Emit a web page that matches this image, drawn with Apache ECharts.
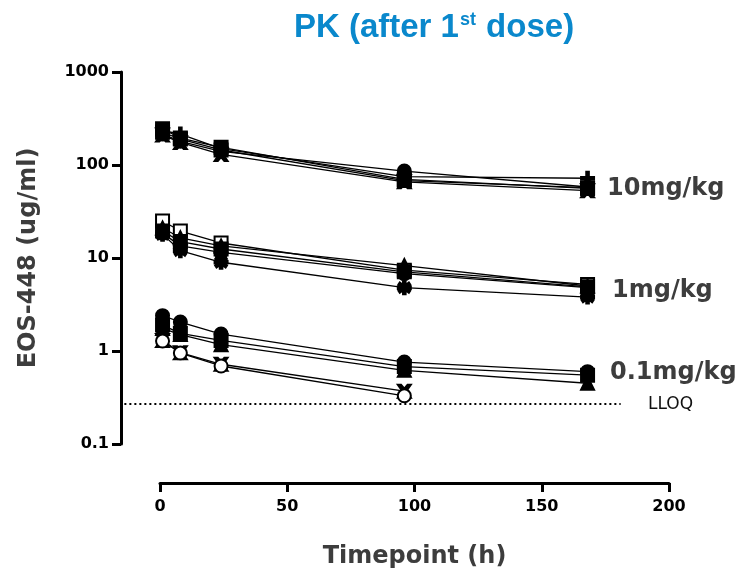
<!DOCTYPE html>
<html>
<head>
<meta charset="utf-8">
<script src="https://cdn.jsdelivr.net/npm/echarts@6/dist/echarts.min.js"></script>
<style>
  html, body { margin: 0; padding: 0; background: #fff; }
  #pkChart { width: 737px; height: 577px; }
</style>
</head>
<body>
<div id="pkChart"></div>
<script>
// timepoints (h)
const times = [1, 8, 24, 96, 168];
const xTicks = [0, 50, 100, 150, 200];
const yTicks = [0.1, 1, 10, 100, 1000];

// EOS-448 concentration (ug/ml) per animal
const dose10 = [
  [245, 195, 155, 70, 56],
  [235, 215, 150, 75, 72],
  [225, 190, 145, 68, 57],
  [215, 180, 140, 86, 58],
  [210, 175, 130, 66, 53]
];
const dose1 = [
  [25, 19.5, 14.5, 7.4, 5.2],
  [21, 16.5, 13.5, 8.3, 5.0],
  [19.5, 15, 12.5, 7.1, 4.9],
  [18.5, 13.5, 11.5, 6.8, 4.8],
  [18, 12, 9, 4.8, 3.8]
];
const dose01 = [
  [2.4, 2.05, 1.52, 0.76, 0.6],
  [1.9, 1.55, 1.3, 0.68, 0.55],
  [1.75, 1.5, 1.17, 0.62, 0.45],
  [1.3, 0.96, 0.72, 0.37, null],
  [1.28, 0.95, 0.69, 0.33, null]
];
const lloq = 0.27;
const lloqX = [-14, 181];

const xPath = 'path://M0,0 L2.5,0 L5,3 L7.5,0 L10,0 L6.5,5 L10,10 L7.5,10 L5,7 L2.5,10 L0,10 L3.5,5 Z';
const plusPath = 'path://M4,0 H6 V4 H10 V6 H6 V10 H4 V6 H0 V4 H4 Z';
const starPath = 'path://M4,0 H6 L6,3 L8.5,1 L9.5,2.5 L7,4 H10 V6 H7 L9.5,7.5 L8.5,9 L6,7 V10 H4 V7 L1.5,9 L0.5,7.5 L3,6 H0 V4 H3 L0.5,2.5 L1.5,1 L4,3 Z';

const sym10 = ['rect', plusPath, 'rect', 'circle', xPath];
const sym1 = ['emptyRect', 'triangle', 'rect', 'circle', starPath];
const sym01 = ['circle', 'rect', 'triangle', xPath, 'emptyCircle'];

function makeSeries(group, syms, name) {
  return group.map((vals, i) => ({
    name: name + '-' + (i + 1),
    type: 'line',
    data: times.map((t, j) => [t, vals[j]]),
    symbol: syms[i],
    symbolSize: 13,
    color: '#000',
    itemStyle: { color: '#000', borderColor: '#000', borderWidth: 2 },
    lineStyle: { color: '#000', width: 1.3 },
    connectNulls: false,
    silent: true
  }));
}

let series = [].concat(
  makeSeries(dose10, sym10, '10mg/kg'),
  makeSeries(dose1, sym1, '1mg/kg'),
  makeSeries(dose01, sym01, '0.1mg/kg')
);
// LLOQ dotted line on a hidden twin grid that reaches back to the offset y axis
series.push({
  name: 'LLOQ',
  type: 'line',
  xAxisIndex: 1,
  yAxisIndex: 1,
  data: lloqX.map(x => [x, lloq]),
  symbol: 'none',
  silent: true,
  lineStyle: { color: '#000', width: 2, type: [2, 3] }
});

let chart = echarts.init(document.getElementById('pkChart'));
const gray = '#3d3d3d';
const font = 'DejaVu Sans';
const blue = '#0a88cc';
chart.setOption({
  animation: false,
  title: {
    text: 'PK (after 1{sup|st} dose)',
    left: 429,
    top: 6,
    textAlign: 'center',
    textStyle: {
      color: blue,
      fontSize: 33,
      fontWeight: 'bold',
      fontFamily: 'Liberation Sans',
      rich: {
        sup: { fontSize: 18, fontWeight: 'bold', color: blue, fontFamily: 'Liberation Sans', verticalAlign: 'top', padding: [0, 1, 14, 1] }
      }
    }
  },
  grid: [
    { left: 160, right: 68, top: 72, bottom: 133 },
    { left: 121, right: 68, top: 72, bottom: 133 }
  ],
  xAxis: [{
    type: 'value',
    min: 0, max: 200, interval: 50,
    offset: 39,
    name: 'Timepoint (h)',
    nameLocation: 'middle',
    nameGap: 62,
    nameTextStyle: { fontSize: 24, fontWeight: 'bold', color: gray, fontFamily: font },
    axisLine: { onZero: false, lineStyle: { color: '#000', width: 3 } },
    axisTick: { length: 9, lineStyle: { color: '#000', width: 3 } },
    axisLabel: { fontSize: 16, fontWeight: 'bold', color: '#000', fontFamily: font, margin: 16 },
    splitLine: { show: false }
  }, {
    type: 'value',
    gridIndex: 1,
    min: -15.32, max: 200,
    show: false
  }],
  yAxis: [{
    type: 'log',
    logBase: 10,
    min: 0.1, max: 1000,
    offset: 39,
    name: 'EOS-448 (ug/ml)',
    nameLocation: 'middle',
    nameGap: 80,
    nameRotate: 90,
    nameTextStyle: { fontSize: 24, fontWeight: 'bold', color: gray, fontFamily: font },
    axisLine: { show: true, onZero: false, lineStyle: { color: '#000', width: 3 } },
    axisTick: { show: true, length: 9, lineStyle: { color: '#000', width: 3 } },
    axisLabel: {
      fontSize: 16, fontWeight: 'bold', color: '#000', fontFamily: font, margin: 12,
      formatter: v => String(Number(v.toPrecision(3)))
    },
    splitLine: { show: false },
    minorTick: { show: false }
  }, {
    type: 'log',
    logBase: 10,
    gridIndex: 1,
    min: 0.1, max: 1000,
    show: false
  }],
  graphic: [
    { type: 'text', left: 607, top: 177, style: { text: '10mg/kg', font: 'bold 24px "DejaVu Sans"', fill: gray } },
    { type: 'text', left: 612, top: 279, style: { text: '1mg/kg', font: 'bold 24px "DejaVu Sans"', fill: gray } },
    { type: 'text', left: 610, top: 361, style: { text: '0.1mg/kg', font: 'bold 24px "DejaVu Sans"', fill: gray } },
    { type: 'text', left: 648, top: 396, style: { text: 'LLOQ', font: '17px "DejaVu Sans"', fill: '#111' } }
  ],
  series: series
});
</script>
</body>
</html>
